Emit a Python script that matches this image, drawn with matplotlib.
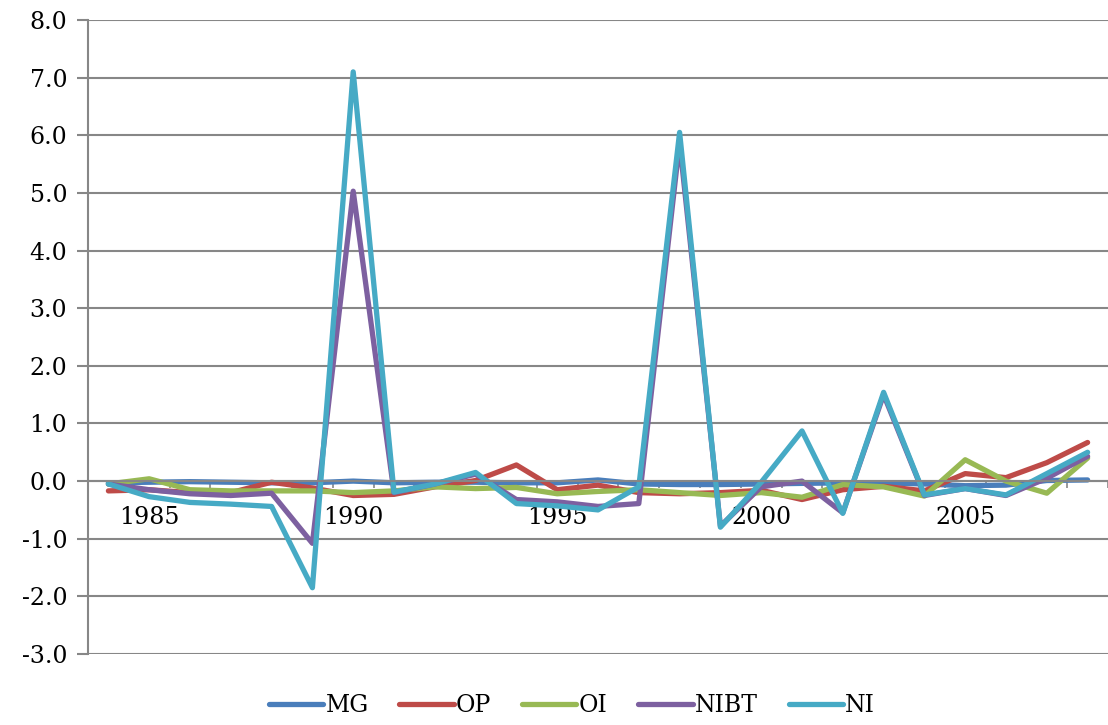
import numpy as np
import matplotlib
matplotlib.use("Agg")
import matplotlib.pyplot as plt
from matplotlib.ticker import FixedLocator

years = list(range(1984, 2009))

mg = [-0.03, -0.02, -0.01, -0.02, -0.03, -0.03, 0.0, -0.03, -0.02, -0.02, -0.03, -0.03, 0.02,
      -0.05, -0.06, -0.06, -0.05, -0.04, -0.03, -0.03, -0.05, -0.08, -0.07, 0.01, 0.02]
op = [-0.17, -0.15, -0.2, -0.2, -0.02, -0.12, -0.25, -0.23, -0.1, 0.01, 0.28, -0.15, -0.07,
      -0.2, -0.22, -0.2, -0.16, -0.32, -0.15, -0.09, -0.17, 0.13, 0.06, 0.32, 0.67]
oi = [-0.05, 0.04, -0.15, -0.17, -0.17, -0.17, -0.2, -0.17, -0.1, -0.13, -0.11, -0.22, -0.18,
      -0.15, -0.2, -0.25, -0.2, -0.28, -0.06, -0.1, -0.26, 0.37, 0.0, -0.21, 0.4]
nibt = [-0.05, -0.15, -0.22, -0.25, -0.21, -1.08, 5.03, -0.2, -0.05, 0.12, -0.32, -0.36, -0.44,
        -0.39, 5.88, -0.78, -0.1, 0.0, -0.55, 1.5, -0.25, -0.13, -0.25, 0.05, 0.43]
ni = [-0.05, -0.27, -0.37, -0.4, -0.44, -1.85, 7.1, -0.19, -0.05, 0.15, -0.39, -0.43, -0.5,
      -0.1, 6.05, -0.8, -0.02, 0.87, -0.56, 1.54, -0.24, -0.13, -0.24, 0.13, 0.5]

series = [("MG", mg, "#4A7EBB"), ("OP", op, "#BE4B48"), ("OI", oi, "#98B954"),
          ("NIBT", nibt, "#7D60A0"), ("NI", ni, "#46AAC5")]

plt.rcParams["font.family"] = ["DejaVu Serif"]
grid_col = "#878787"
fs = 17

fig = plt.figure(figsize=(11.08, 7.25), dpi=100)
ax = fig.add_axes([88 / 1108, 1 - 654 / 725, 1020 / 1108, 634 / 725])

# spine position first (it resets the tick settings)
ax.spines["bottom"].set_position(("data", 0))
ax.spines["bottom"].set_color(grid_col)
ax.spines["bottom"].set_linewidth(1.5)
ax.spines["left"].set_color(grid_col)
ax.spines["left"].set_linewidth(1.5)
ax.spines["top"].set_visible(False)
ax.spines["right"].set_visible(False)

x = np.arange(len(years))
for name, vals, col in series:
    ax.plot(x, vals, color=col, linewidth=3.8, label=name, solid_joinstyle="round",
            solid_capstyle="round")

ax.set_xlim(-0.5, len(years) - 0.5)
ax.set_ylim(-3.0, 8.0)
ax.set_yticks(np.arange(-3, 9, 1))
ax.set_yticklabels([f"{v:.1f}" for v in np.arange(-3, 9, 1)])
ax.yaxis.grid(True, color=grid_col, linewidth=1.5)
ax.set_axisbelow(True)

lab_idx = [i for i, y in enumerate(years) if y % 5 == 0]
ax.set_xticks(lab_idx)
ax.set_xticklabels([str(years[i]) for i in lab_idx])
ax.xaxis.set_minor_locator(FixedLocator(np.arange(-0.5, len(years), 1)))
ax.tick_params(axis="x", which="major", length=0, pad=18, labelsize=fs)
ax.tick_params(axis="x", which="minor", length=5, color=grid_col, width=1.2)
ax.tick_params(axis="y", length=8, color=grid_col, width=1.5, pad=7, labelsize=fs)

ax.legend(loc="center", bbox_to_anchor=(572 / 1108, 1 - 706 / 725), bbox_transform=fig.transFigure,
          ncol=5, frameon=False, fontsize=fs, handlelength=2.3, handletextpad=0.1,
          columnspacing=1.3)

fig.savefig("out.png", dpi=100)
